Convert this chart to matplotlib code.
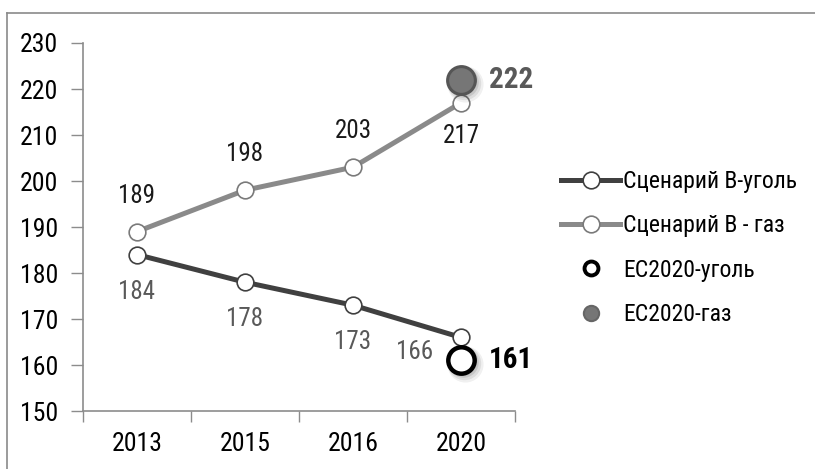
import matplotlib
matplotlib.use("Agg")
import matplotlib.pyplot as plt
import matplotlib.transforms as mtransforms
from matplotlib.lines import Line2D

plt.rcParams['font.family'] = ['Roboto Condensed', 'DejaVu Sans']

years = ["2013", "2015", "2016", "2020"]
coal = [184, 178, 173, 166]
gas = [189, 198, 203, 217]
ec2020_coal = 161
ec2020_gas = 222

coal_color = "#404040"
gas_color = "#8a8a8a"
axis_color = "#8c8c8c"

fig = plt.figure(figsize=(8.15, 4.69), dpi=100)
ax = fig.add_axes([83 / 815, 58 / 469, 432 / 815, 368 / 469])

x = list(range(len(years)))
ax.plot(x, gas, color=gas_color, lw=3.6, marker="o", ms=12,
        mfc="white", mec="#7a7a7a", mew=1.2, zorder=3)
ax.plot(x, coal, color=coal_color, lw=3.6, marker="o", ms=12,
        mfc="white", mec=coal_color, mew=1.2, zorder=3)

# soft shadows under the two 2020 points
for dx, dy, a, s in [(4, -4, 0.06, 26), (3, -3, 0.08, 24), (2, -2, 0.10, 22)]:
    shift = ax.transData + mtransforms.ScaledTranslation(dx / 100, dy / 100, fig.dpi_scale_trans)
    for val in (ec2020_coal, ec2020_gas):
        ax.plot(x[-1], val, "o", ms=s, color="black", alpha=a, mew=0,
                transform=shift, zorder=4)

ax.plot(x[-1], ec2020_gas, "o", ms=20, mfc="#767676", mec="#555555", mew=2.2, zorder=5)
ax.plot(x[-1], ec2020_coal, "o", ms=19, mfc="white", mec="black", mew=3.2, zorder=5)

# value labels
for i, v in enumerate(gas):
    ax.annotate(str(v), (x[i], v), xytext=(0, 36 if i < 3 else -33),
                textcoords="offset pixels", ha="center", va="center",
                fontsize=18, color="#1a1a1a")
for i, v in enumerate(coal):
    off = (0, -37) if i < 3 else (-46, -15)
    ax.annotate(str(v), (x[i], v), xytext=off,
                textcoords="offset pixels", ha="center", va="center",
                fontsize=18, color="#595959")
ax.annotate(str(ec2020_gas), (x[-1], ec2020_gas), xytext=(50, 0),
            textcoords="offset pixels", ha="center", va="center",
            fontsize=21, fontweight="bold", color="#595959")
ax.annotate(str(ec2020_coal), (x[-1], ec2020_coal), xytext=(50, 0),
            textcoords="offset pixels", ha="center", va="center",
            fontsize=21, fontweight="bold", color="black")

ax.set_xlim(-0.5, len(years) - 0.5)
ax.set_ylim(150, 230)
ax.set_yticks(range(150, 231, 10))
ax.set_xticks([i - 0.5 for i in range(len(years) + 1)])
ax.set_xticklabels([])
ax.set_xticks(x, minor=True)
ax.set_xticklabels(years, minor=True)
ax.tick_params(axis="x", which="major", direction="out", length=8, color=axis_color, width=1)
ax.tick_params(axis="x", which="minor", length=0, pad=15, labelsize=18.5)
ax.tick_params(axis="y", direction="out", length=9, color=axis_color, width=1, pad=9, labelsize=18.5)
for side in ("top", "right"):
    ax.spines[side].set_visible(False)
for side in ("left", "bottom"):
    ax.spines[side].set_color(axis_color)
    ax.spines[side].set_linewidth(1.2)

handles = [
    Line2D([], [], color=coal_color, lw=3.6, marker="o", ms=12, mfc="white", mec=coal_color, mew=1.2),
    Line2D([], [], color=gas_color, lw=3.6, marker="o", ms=12, mfc="white", mec="#7a7a7a", mew=1.2),
    Line2D([], [], ls="none", marker="o", ms=10, mfc="white", mec="black", mew=2.8),
    Line2D([], [], ls="none", marker="o", ms=11, mfc="#767676", mec="#666666", mew=1.5),
]
labels = ["Сценарий В-уголь", "Сценарий В - газ", "ЕС2020-уголь", "ЕС2020-газ"]
fig.legend(handles, labels, loc="center left", bbox_to_anchor=(552 / 815, 1 - 248 / 469),
           frameon=False, fontsize=17, handlelength=2.5, handletextpad=0.1,
           labelspacing=0.9, borderaxespad=0)

# thin frame along the top and left edges
fig.add_artist(Line2D([7 / 815, 7 / 815], [0, 1 - 13 / 469], color="#8a8a8a", lw=1.2))
fig.add_artist(Line2D([7 / 815, 1], [1 - 13 / 469, 1 - 13 / 469], color="#8a8a8a", lw=1.2))

fig.savefig("out.png", dpi=100)
